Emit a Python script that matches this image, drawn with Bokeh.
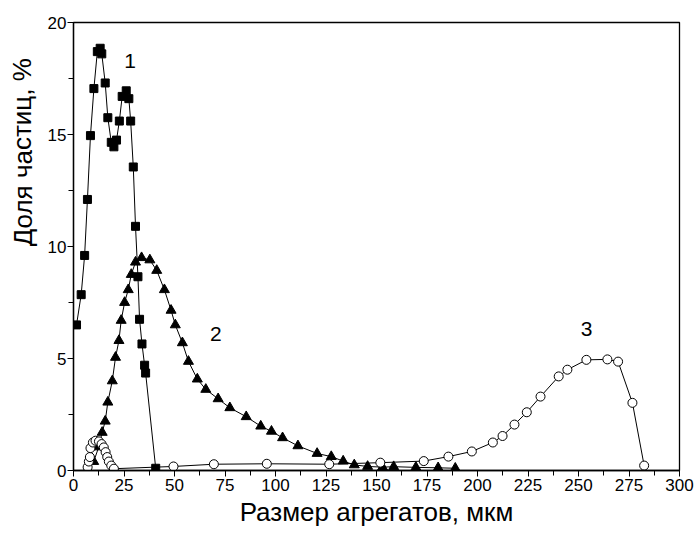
from bokeh.plotting import figure
from bokeh.layouts import row
from bokeh.models import FixedTicker, Range1d
from bokeh.core.properties import value
from bokeh.embed import file_html
from bokeh.resources import INLINE

# Series 1 (squares)
x1 = [1.5, 3.8, 5.5, 6.9, 8.4, 10.1, 11.8, 13.2, 14.0, 15.7, 17.0, 18.7, 20.0, 21.3,
      22.7, 24.1, 26.1, 27.4, 28.3, 29.6, 30.7, 31.9, 32.7, 33.9, 35.2, 35.7, 40.7]
y1 = [6.5, 7.85, 9.6, 12.1, 14.95, 17.05, 18.7, 18.85, 18.6, 17.3, 15.75, 14.65, 14.45, 14.75,
      15.6, 16.7, 16.95, 16.6, 15.6, 13.55, 10.9, 8.65, 6.75, 5.65, 4.7, 4.35, 0.1]

# Series 2 (triangles)
x2 = [10.0, 12.5, 14.2, 15.7, 17.0, 19.2, 20.8, 22.5, 23.6, 25.3, 27.1, 28.6, 30.7, 33.7,
      37.8, 41.2, 45.0, 48.3, 50.4, 53.9, 56.9, 61.3, 65.5, 71.6, 77.4, 85.5, 92.7, 98.0,
      103.5, 111.1, 120.6, 127.6, 133.5, 139.0, 145.6, 153.0, 158.5, 169.5, 180.5, 189.0]
y2 = [0.4, 1.05, 1.7, 2.2, 3.05, 4.0, 5.05, 5.8, 6.7, 7.5, 8.07, 8.75, 9.3, 9.5,
      9.4, 8.93, 8.07, 7.15, 6.5, 5.7, 4.87, 4.08, 3.62, 3.2, 2.8, 2.4, 1.98, 1.75,
      1.46, 1.1, 0.76, 0.62, 0.42, 0.25, 0.18, 0.15, 0.17, 0.14, 0.12, 0.1]

# Series 3 (open circles)
x3 = [7.0, 7.6, 8.1, 8.4, 9.6, 10.9, 12.6, 13.9, 15.0, 15.9, 16.7, 17.5, 18.7, 20.0,
      49.5, 69.5, 95.7, 126.6, 151.9, 173.4, 185.6, 197.2, 207.6, 212.4, 218.3, 224.4,
      231.2, 240.2, 244.5, 253.9, 264.3, 269.6, 276.7, 282.5]
y3 = [0.15, 0.4, 0.6, 1.0, 1.25, 1.33, 1.3, 1.18, 1.03, 0.82, 0.6, 0.4, 0.22, 0.08,
      0.18, 0.28, 0.3, 0.28, 0.35, 0.42, 0.62, 0.85, 1.25, 1.54, 2.05, 2.6,
      3.3, 4.2, 4.5, 4.94, 4.96, 4.86, 3.02, 0.22]

labels = ["1", "2", "3"]
label_x = [28, 70.5, 254]
label_y = [18.3, 6.1, 6.3]

x_ticks = [0, 25, 50, 75, 100, 125, 150, 175, 200, 225, 250, 275, 300]
y_ticks = [0, 5, 10, 15, 20]

x_title = "Размер агрегатов, мкм"
y_title = "Доля частиц, %"

FONT = "Liberation Sans"
H = 535
LEFT_W = 43

# Narrow strip on the left that carries the y-axis title (placed higher than centre, as in the original)
lab = figure(width=LEFT_W, height=H, output_backend="svg", toolbar_location=None,
             x_range=Range1d(0, LEFT_W), y_range=Range1d(0, H),
             min_border=0, min_border_left=0, min_border_right=0, min_border_top=0, min_border_bottom=0)
lab.axis.visible = False
lab.grid.visible = False
lab.outline_line_color = None
lab.background_fill_color = "white"
lab.border_fill_color = "white"
lab.text(x=[22], y=[H - 155], text=[y_title], angle=1.5708, text_font=value(FONT),
         text_font_size="26px", text_align="center", text_baseline="middle", text_color="black")

p = figure(width=695 - LEFT_W, height=H, output_backend="svg", toolbar_location=None,
           x_range=Range1d(0, 300), y_range=Range1d(0, 20),
           min_border_left=73 - LEFT_W, min_border_right=16, min_border_top=22, min_border_bottom=65)
p.background_fill_color = "white"
p.border_fill_color = "white"
p.outline_line_color = "black"
p.outline_line_width = 1.3
p.xgrid.visible = False
p.ygrid.visible = False

p.xaxis.ticker = FixedTicker(ticks=x_ticks, minor_ticks=[i * 12.5 for i in range(25)])
p.yaxis.ticker = FixedTicker(ticks=y_ticks, minor_ticks=[i * 2.5 for i in range(9)])

for ax in (p.xaxis, p.yaxis):
    ax.axis_line_color = "black"
    ax.axis_line_width = 1.3
    ax.major_tick_line_color = "black"
    ax.minor_tick_line_color = "black"
    ax.major_tick_out = 6
    ax.major_tick_in = 0
    ax.minor_tick_out = 5
    ax.minor_tick_in = 0
    ax.major_label_text_font = FONT
    ax.major_label_text_font_size = "17px"
    ax.major_label_text_color = "black"
    ax.axis_label_text_font = FONT
    ax.axis_label_text_font_style = "normal"
    ax.axis_label_text_color = "black"

p.xaxis.axis_label = x_title
p.xaxis.axis_label_text_font_size = "26px"
p.xaxis.major_label_standoff = 2
p.yaxis.major_label_standoff = 1
p.xaxis.axis_label_standoff = 3

p.line(x1, y1, line_color="black", line_width=1)
p.scatter(x1, y1, marker="square", size=8, fill_color="black", line_color="black")

p.line(x2, y2, line_color="black", line_width=1)
p.scatter(x2, y2, marker="triangle", size=10, fill_color="black", line_color="black")

p.line(x3, y3, line_color="black", line_width=1)
p.scatter(x3, y3, marker="circle", size=9, fill_color="white", line_color="black", line_width=1)

p.text(x=label_x, y=label_y, text=labels, text_font=value(FONT), text_font_size="21px",
       text_align="center", text_baseline="middle", text_color="black")

layout = row(lab, p, spacing=0)
open("out.html", "w").write(file_html(layout, INLINE))
